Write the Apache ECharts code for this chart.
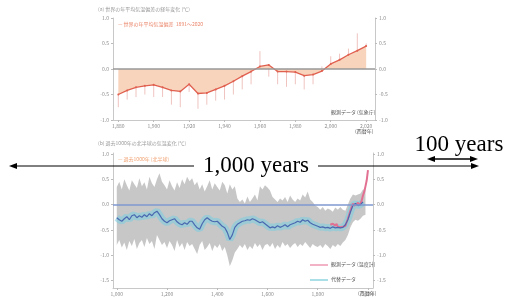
<!DOCTYPE html>
<html>
<head>
<meta charset="utf-8">
<script src="https://cdn.jsdelivr.net/npm/echarts@6/dist/echarts.min.js"></script>
<style>
html, body { margin: 0; padding: 0; background: #fff; }
#chart { width: 508px; height: 298px; }
</style>
</head>
<body>
<div id="chart"></div>
<script>
// top panel: last ~140 years, 5-year steps
const recentYears = [1880, 1885, 1890, 1895, 1900, 1905, 1910, 1915, 1920, 1925, 1930, 1935, 1940, 1945, 1950,
    1955, 1960, 1965, 1970, 1975, 1980, 1985, 1990, 1995, 2000, 2005, 2010, 2015, 2020];
const recentTemp = [-0.50, -0.42, -0.36, -0.33, -0.31, -0.36, -0.42, -0.44, -0.30, -0.48, -0.47, -0.40, -0.33, -0.24, -0.14,
    -0.05, 0.05, 0.08, -0.05, -0.05, -0.06, -0.13, -0.11, -0.04, 0.10, 0.18, 0.28, 0.36, 0.45];
const recentSpike = [-0.75, -0.60, -0.55, -0.50, -0.55, -0.55, -0.70, -0.75, -0.45, -0.78, -0.70, -0.62, -0.60, -0.50, -0.40,
    -0.30, 0.35, -0.15, -0.30, -0.35, -0.30, -0.40, -0.30, 0.05, 0.25, 0.30, 0.40, 0.70, 0.50];
const recentTicks = [1880, 1900, 1920, 1940, 1960, 1980, 2000, 2020];

// bottom panel: last 1000 years, decades
const longYears = [];
for (let y = 1000; y <= 1990; y += 10) longYears.push(y);
const bandHigh = [
    0.35, 0.45, 0.30, 0.50, 0.38, 0.28, 0.48, 0.40, 0.33, 0.52,
    0.36, 0.44, 0.30, 0.55, 0.42, 0.35, 0.50, 0.62, 0.45, 0.38,
    0.30, 0.48, 0.36, 0.28, 0.44, 0.33, 0.50, 0.40, 0.55, 0.46,
    0.52, 0.38, 0.45, 0.30, 0.40, 0.26, 0.36, 0.48, 0.30, 0.42,
    0.35, 0.28, 0.45, 0.38, 0.22, 0.40, 0.30, 0.36, 0.12, 0.05,
    0.10, 0.02, 0.16, 0.05, 0.12, 0.20, 0.08, 0.36, 0.30, 0.38,
    0.34, 0.28, 0.15, 0.10, 0.05, 0.12, 0.08, 0.15, 0.05, 0.18,
    0.10, 0.05, 0.12, 0.08, 0.20, 0.14, 0.26, 0.10, 0.05, -0.02,
    -0.05, -0.10, -0.05, -0.12, -0.08, -0.10, -0.14, -0.06, -0.10, -0.05,
    -0.10, -0.12, 0.00, 0.12, 0.20, 0.18, 0.20, 0.22, 0.30, 0.30];
const bandLow = [
    -0.80, -0.70, -0.85, -0.75, -0.90, -0.72, -0.82, -0.68, -0.88, -0.76,
    -0.70, -0.84, -0.66, -0.78, -0.72, -0.88, -0.60, -0.70, -0.80, -0.74,
    -0.86, -0.72, -0.80, -0.92, -0.70, -0.84, -0.76, -0.90, -0.74, -0.82,
    -0.78, -0.88, -0.98, -0.80, -0.72, -0.90, -0.84, -0.76, -0.92, -0.80,
    -0.86, -0.78, -0.92, -0.84, -1.00, -1.22, -1.10, -0.95, -0.88, -0.80,
    -0.86, -0.78, -0.90, -0.82, -0.88, -0.76, -0.84, -0.78, -0.90, -0.80,
    -0.78, -0.84, -0.76, -0.88, -0.80, -0.86, -0.74, -0.82, -0.78, -0.86,
    -0.80, -0.76, -0.84, -0.78, -0.82, -0.74, -0.80, -0.86, -0.78, -0.82,
    -0.84, -0.80, -0.86, -0.78, -0.82, -0.88, -0.80, -0.84, -0.78, -0.82,
    -0.75, -0.70, -0.60, -0.45, -0.35, -0.30, -0.32, -0.28, -0.22, -0.20];
const proxyTemp = [
    -0.26, -0.30, -0.33, -0.28, -0.24, -0.30, -0.22, -0.20, -0.26, -0.22,
    -0.25, -0.20, -0.24, -0.18, -0.22, -0.16, -0.13, -0.20, -0.28, -0.33,
    -0.36, -0.32, -0.30, -0.28, -0.34, -0.38, -0.40, -0.36, -0.39, -0.33,
    -0.33, -0.40, -0.46, -0.49, -0.38, -0.30, -0.26, -0.30, -0.33, -0.34,
    -0.33, -0.38, -0.43, -0.46, -0.55, -0.69, -0.60, -0.45, -0.39, -0.36,
    -0.33, -0.32, -0.30, -0.31, -0.28, -0.30, -0.33, -0.36, -0.34, -0.38,
    -0.42, -0.46, -0.44, -0.46, -0.42, -0.45, -0.43, -0.40, -0.44, -0.40,
    -0.38, -0.36, -0.33, -0.35, -0.30, -0.33, -0.31, -0.36, -0.39, -0.41,
    -0.43, -0.45, -0.44, -0.46, -0.45, -0.47, -0.44, -0.46, -0.45, -0.46,
    -0.45, -0.40, -0.30, -0.15, -0.02, 0.02, -0.02, 0.00, 0.05];
const obsYears = [1850, 1855, 1860, 1865, 1870, 1875, 1880, 1885, 1890, 1895, 1900, 1905, 1910, 1915, 1920, 1925,
    1930, 1935, 1940, 1945, 1950, 1955, 1960, 1965, 1970, 1975, 1980, 1985, 1990, 1995, 2000];
const obsTemp = [-0.40, -0.42, -0.38, -0.40, -0.42, -0.38, -0.44, -0.46, -0.45, -0.48, -0.44, -0.46, -0.42, -0.35, -0.28, -0.20,
    -0.12, -0.05, 0.02, -0.02, -0.05, 0.00, 0.04, -0.02, 0.02, 0.08, 0.18, 0.25, 0.36, 0.48, 0.68];
const longTicks = [1000, 1200, 1400, 1600, 1800, 2000];
const tempTicks = [-1.5, -1.0, -0.5, 0.0, 0.5, 1.0];

const pairs = (xs, ys) => xs.slice(0, ys.length).map((x, i) => [x, ys[i]]);
const small = { fontSize: 5, color: '#8a8a8a', fontFamily: 'Noto Sans CJK JP' };
const axisGray = { lineStyle: { color: '#c8c8c8' } };

function xAxisFor(grid, min, max, ticks) {
    return {
        type: 'value', gridIndex: grid, min: min, max: max,
        axisLine: { onZero: false, ...axisGray },
        axisTick: { customValues: ticks, length: 2, lineStyle: { color: '#bbb' } },
        axisLabel: { customValues: ticks, margin: 4, ...small },
        splitLine: { show: false }
    };
}
function yAxisFor(grid, pos, min, max, ticks) {
    return {
        type: 'value', gridIndex: grid, position: pos, min: min, max: max,
        axisLine: { show: true, ...axisGray },
        axisTick: { show: true, customValues: ticks, length: 2, lineStyle: { color: '#bbb' } },
        axisLabel: { customValues: ticks, margin: 4, formatter: v => v.toFixed(1), ...small },
        splitLine: { show: false }
    };
}

const chart = echarts.init(document.getElementById('chart'));

const arrowHead = (tipX, y, dir) => ({
    type: 'polygon',
    shape: { points: [[tipX, y], [tipX - dir * 8, y - 3], [tipX - dir * 8, y + 3]] },
    style: { fill: '#000' }, z: 100
});

// uncertainty band drawn as a polygon through the axis scale
function renderBand(params, api) {
    if (params.dataIndex !== 0) return;
    const top = longYears.map((y, i) => api.coord([y, bandHigh[i]]));
    const bottom = longYears.map((y, i) => api.coord([y, bandLow[i]])).reverse();
    return {
        type: 'polygon',
        shape: { points: top.concat(bottom) },
        style: { fill: 'rgba(185,185,185,0.8)' }
    };
}

chart.setOption({
    backgroundColor: '#fff',
    animation: false,
    grid: [
        { left: 113, top: 18, width: 262, height: 102 },
        { left: 113, top: 153, width: 260, height: 135 }
    ],
    xAxis: [
        xAxisFor(0, 1877, 2025, recentTicks),
        xAxisFor(1, 985, 2020, longTicks)
    ],
    yAxis: [
        yAxisFor(0, 'left', -1, 1, [-1, -0.5, 0, 0.5, 1]),
        yAxisFor(0, 'right', -1, 1, [-1, -0.5, 0, 0.5, 1]),
        yAxisFor(1, 'left', -1.65, 1.02, tempTicks),
        yAxisFor(1, 'right', -1.65, 1.02, tempTicks)
    ],
    series: [
        {
            name: 'spikes', type: 'custom', xAxisIndex: 0, yAxisIndex: 0, z: 1,
            data: recentYears.map((y, i) => [y, recentTemp[i], recentSpike[i]]),
            encode: { x: 0, y: [1, 2] },
            renderItem: function (params, api) {
                const a = api.coord([api.value(0), api.value(1)]);
                const b = api.coord([api.value(0), api.value(2)]);
                return {
                    type: 'line',
                    shape: { x1: a[0], y1: a[1], x2: b[0], y2: b[1] },
                    style: { stroke: '#efc4c0', lineWidth: 1 }
                };
            }
        },
        {
            name: 'recent', type: 'line', xAxisIndex: 0, yAxisIndex: 0, z: 3,
            data: pairs(recentYears, recentTemp),
            symbol: 'circle', symbolSize: 2,
            itemStyle: { color: '#e06050' },
            lineStyle: { color: '#e06050', width: 1.3 },
            areaStyle: { color: '#f8cdb2', opacity: 0.85 },
            markLine: {
                silent: true, symbol: 'none', label: { show: false },
                lineStyle: { color: '#999', width: 1.5, type: 'solid' },
                data: [{ yAxis: 0 }]
            }
        },
        {
            name: 'band', type: 'custom', xAxisIndex: 1, yAxisIndex: 2, z: 1,
            data: longYears.map((y, i) => [y, bandLow[i], bandHigh[i]]),
            encode: { x: 0, y: [1, 2] },
            renderItem: renderBand
        },
        {
            name: 'proxyGlow', type: 'line', xAxisIndex: 1, yAxisIndex: 2, z: 2,
            data: pairs(longYears, proxyTemp), symbol: 'none',
            lineStyle: { color: 'rgba(120,205,225,0.55)', width: 7 }
        },
        {
            name: 'obs', type: 'line', xAxisIndex: 1, yAxisIndex: 2, z: 3,
            data: pairs(obsYears, obsTemp), symbol: 'none',
            lineStyle: { color: '#e27092', width: 2 },
            markLine: {
                silent: true, symbol: 'none', label: { show: false },
                lineStyle: { color: '#7f98cf', width: 1.5, type: 'solid' },
                data: [{ yAxis: 0 }]
            }
        },
        {
            name: 'proxy', type: 'line', xAxisIndex: 1, yAxisIndex: 2, z: 4,
            data: pairs(longYears, proxyTemp), symbol: 'none',
            lineStyle: { color: '#4a68b0', width: 1.2 }
        }
    ],
    graphic: [
        { type: 'text', left: 98, top: 7, style: { text: '(a) 世界の年平均気温偏差の経年変化 (℃)', ...small, fill: '#999' } },
        { type: 'text', left: 118, top: 22, style: { text: '— 世界の年平均気温偏差  1891〜2020', fontSize: 5, fill: '#ea8468', fontFamily: 'Noto Sans CJK JP' } },
        { type: 'text', left: 331, top: 110, style: { text: '観測データ (気象庁)', fontSize: 5, fill: '#555', fontFamily: 'Noto Sans CJK JP' } },
        { type: 'text', left: 355, top: 129, style: { text: '(西暦年)', fontSize: 5, fill: '#555', fontFamily: 'Noto Sans CJK JP' } },
        { type: 'text', left: 98, top: 141, style: { text: '(b) 過去1000年の北半球の気温変化 (℃)', ...small, fill: '#999' } },
        { type: 'text', left: 118, top: 157, style: { text: '— 過去1000年 (北半球)', fontSize: 5, fill: '#f0a070', fontFamily: 'Noto Sans CJK JP' } },
        { type: 'line', shape: { x1: 310, y1: 265, x2: 328, y2: 265 }, style: { stroke: '#ec9ab2', lineWidth: 1.5 } },
        { type: 'text', left: 331, top: 262, style: { text: '観測データ (温度計)', fontSize: 5, fill: '#555', fontFamily: 'Noto Sans CJK JP' } },
        { type: 'line', shape: { x1: 310, y1: 280, x2: 328, y2: 280 }, style: { stroke: '#8fd4df', lineWidth: 1.5 } },
        { type: 'text', left: 331, top: 277, style: { text: '代替データ', fontSize: 5, fill: '#555', fontFamily: 'Noto Sans CJK JP' } },
        { type: 'text', left: 358, top: 291, style: { text: '(西暦年)', fontSize: 5, fill: '#555', fontFamily: 'Noto Sans CJK JP' } },

        // 1,000 years arrow
        { type: 'line', shape: { x1: 12, y1: 166, x2: 194, y2: 166 }, style: { stroke: '#000', lineWidth: 1 }, z: 100 },
        { type: 'line', shape: { x1: 318, y1: 166, x2: 476, y2: 166 }, style: { stroke: '#000', lineWidth: 1 }, z: 100 },
        arrowHead(9, 166, -1),
        arrowHead(479, 166, 1),
        {
            type: 'text', x: 256, y: 166, z: 100,
            style: {
                text: '1,000 years', fontSize: 23, fontFamily: 'Liberation Serif', fill: '#000',
                align: 'center', verticalAlign: 'middle', backgroundColor: '#fff', padding: [0, 4]
            }
        },
        // 100 years arrow
        { type: 'line', shape: { x1: 430, y1: 159, x2: 475, y2: 159 }, style: { stroke: '#000', lineWidth: 1.5 }, z: 100 },
        arrowHead(427, 159, -1),
        arrowHead(478, 159, 1),
        {
            type: 'text', x: 459, y: 145, z: 100,
            style: {
                text: '100 years', fontSize: 23, fontFamily: 'Liberation Serif', fill: '#000',
                align: 'center', verticalAlign: 'middle'
            }
        }
    ]
});
</script>
</body>
</html>
